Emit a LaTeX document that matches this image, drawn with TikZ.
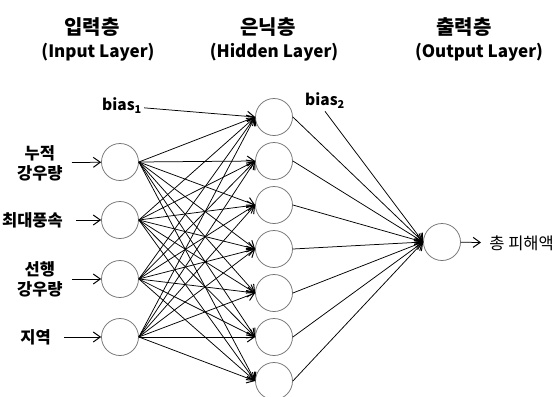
\documentclass[tikz,border=0pt]{standalone}
\usepackage{fontspec}
\setmainfont{Noto Sans CJK KR}
\usetikzlibrary{arrows.meta}

\begin{document}
\begin{tikzpicture}[x=1pt,y=1pt,>={Straight Barb[length=7pt,width=10pt,line width=1pt]},every path/.style={line width=0.75pt},every node/.style={draw=black!55,circle,minimum size=37pt,inner sep=0pt},lbl/.style={draw=none,rectangle,minimum size=0pt,inner sep=2pt},title/.style={lbl,font=\fontsize{17}{20}\selectfont\bfseries},inlabel/.style={lbl,anchor=east,inner xsep=9pt,align=center,font=\fontsize{16.5}{20}\selectfont\bfseries}]
\useasboundingbox (0,-397) rectangle (558,0);
\node[title,font=\fontsize{20}{20}\selectfont\bfseries] (k0) at (92,-27) { 입력층 };
\node[title]             (e0) at (98,-52)   { (Input Layer) };
\node[title,font=\fontsize{20}{20}\selectfont\bfseries] (k1) at (268,-27) { 은닉층 };
\node[title]             (e1) at (274,-52)  { (Hidden Layer) };
\node[title,font=\fontsize{20}{20}\selectfont\bfseries] (k2) at (464,-27) { 출력층 };
\node[title]             (e2) at (479,-52)  { (Output Layer) };
\node[inlabel]           (la0) at (72,-163) { 누적\\강우량 };
\node[inlabel]           (lb0) at (76,-220) { 최대풍속 };
\node[inlabel]           (lc0) at (72,-279) { 선행\\강우량 };
\node[inlabel]           (ld0) at (64,-337) { 지역 };
\node                    (a0) at (120,-162) {};
\node                    (b0) at (120,-220) {};
\node                    (c0) at (120,-279) {};
\node                    (d0) at (120,-337) {};
\node                    (a1) at (274,-117) {};
\node                    (b1) at (274,-161) {};
\node                    (c1) at (274,-205) {};
\node                    (d1) at (274,-249) {};
\node                    (e1) at (274,-293) {};
\node                    (f1) at (274,-337) {};
\node                    (g1) at (274,-381) {};
\node                    (a2) at (442,-242) {};
\node[lbl,font=\fontsize{15.5}{16}\selectfont\bfseries] (bias1) at (122,-106) { bias\textsubscript{1} };
\node[lbl,font=\fontsize{15.5}{16}\selectfont\bfseries] (bias2) at (325,-101) { bias\textsubscript{2} };
\node[lbl,anchor=west,inner xsep=8pt,font=\fontsize{16.5}{18}\selectfont] (la2) at (481,-243) { 총 피해액 };
\draw             (la0) edge[->] (a0);
\draw             (lb0) edge[->] (b0);
\draw             (lc0) edge[->] (c0);
\draw             (ld0) edge[->] (d0);
\draw             (bias1) edge[->] (a1.west);
\draw             (a0.east) edge[->] (a1.west);
\draw             (a0.east) edge[->] (b1.west);
\draw             (a0.east) edge[->] (c1.west);
\draw             (a0.east) edge[->] (d1.west);
\draw             (a0.east) edge[->] (e1.west);
\draw             (a0.east) edge[->] (f1.west);
\draw             (a0.east) edge[->] (g1.west);
\draw             (b0.east) edge[->] (a1.west);
\draw             (b0.east) edge[->] (b1.west);
\draw             (b0.east) edge[->] (c1.west);
\draw             (b0.east) edge[->] (d1.west);
\draw             (b0.east) edge[->] (e1.west);
\draw             (b0.east) edge[->] (f1.west);
\draw             (b0.east) edge[->] (g1.west);
\draw             (c0.east) edge[->] (a1.west);
\draw             (c0.east) edge[->] (b1.west);
\draw             (c0.east) edge[->] (c1.west);
\draw             (c0.east) edge[->] (d1.west);
\draw             (c0.east) edge[->] (e1.west);
\draw             (c0.east) edge[->] (f1.west);
\draw             (c0.east) edge[->] (g1.west);
\draw             (d0.east) edge[->] (a1.west);
\draw             (d0.east) edge[->] (b1.west);
\draw             (d0.east) edge[->] (c1.west);
\draw             (d0.east) edge[->] (d1.west);
\draw             (d0.east) edge[->] (e1.west);
\draw             (d0.east) edge[->] (f1.west);
\draw             (d0.east) edge[->] (g1.west);
\draw             (bias2.south) edge[->] (a2.west);
\draw             (a1.east) edge[->] (a2.west);
\draw             (b1.east) edge[->] (a2.west);
\draw             (c1.east) edge[->] (a2.west);
\draw             (d1.east) edge[->] (a2.west);
\draw             (e1.east) edge[->] (a2.west);
\draw             (f1.east) edge[->] (a2.west);
\draw             (g1.east) edge[->] (a2.west);
\draw             (a2) edge[->] (la2);
\end{tikzpicture}
\end{document}
